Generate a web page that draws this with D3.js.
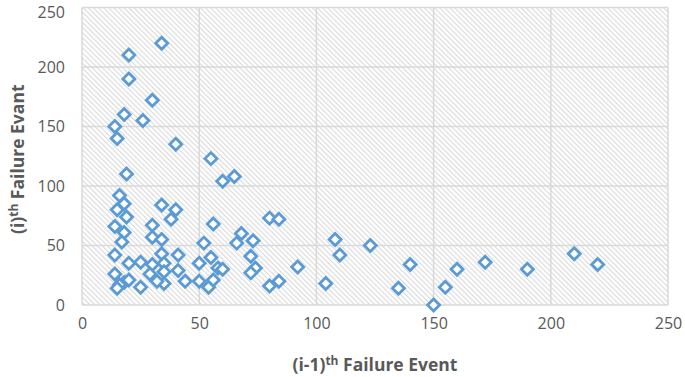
<!DOCTYPE html>
<html>
<head>
<meta charset="utf-8">
<script src="https://cdn.jsdelivr.net/npm/d3@7"></script>
<style>
  body { margin: 0; background: #fff; }
  text { font-family: "Open Sans", sans-serif; }
</style>
</head>
<body>
<script>
// (i-1)th failure event vs (i)th failure event
let prevEvent = [34, 20, 20, 30, 18, 26, 14, 15, 40, 55, 19, 65, 60,
  16, 18, 15, 19, 34, 40, 38, 56, 14, 18, 17, 30, 30, 34, 52,
  68, 66, 73, 80, 84, 108, 110, 123, 92,
  14, 34, 41, 55, 20, 25, 30, 35, 50, 58, 41, 14, 29, 35, 18, 25, 35, 44, 50, 54, 16, 32, 56, 60,
  72, 74, 72, 80, 84, 104, 20, 15,
  140, 135, 150, 155, 160, 172, 190, 210, 220];
let nextEvent = [220, 210, 190, 172, 160, 155, 150, 140, 135, 123, 110, 108, 104,
  92, 85, 80, 74, 84, 80, 72, 68, 66, 61, 53, 67, 57, 55, 52,
  60, 52, 54, 73, 72, 55, 42, 50, 32,
  42, 43, 42, 40, 35, 36, 34, 35, 35, 31, 29, 26, 26, 28, 19, 15, 18, 20, 20, 15, 17, 20, 21, 30,
  41, 31, 27, 16, 20, 18, 21, 14,
  34, 14, 0, 15, 30, 36, 30, 43, 34];
let xTicks = [0, 50, 100, 150, 200, 250];
let yTicks = [0, 50, 100, 150, 200, 250];

let points = prevEvent.map(function(d, i) { return [d, nextEvent[i]]; });

var w = 685, h = 377;
var margin = { top: 7.5, right: 17, bottom: 72, left: 82 };
var width = w - margin.left - margin.right,
    height = h - margin.top - margin.bottom;

var svg = d3.select("body").append("svg")
  .attr("width", w)
  .attr("height", h);

// hatch fill for the plot area
var defs = svg.append("defs");
var pat = defs.append("pattern")
  .attr("id", "hatch")
  .attr("patternUnits", "userSpaceOnUse")
  .attr("width", 3.6)
  .attr("height", 10)
  .attr("patternTransform", "rotate(-45)");
pat.append("rect").attr("width", 3.6).attr("height", 10).attr("fill", "#fff");
pat.append("line")
  .attr("x1", 0.6).attr("y1", 0).attr("x2", 0.6).attr("y2", 10)
  .attr("stroke", "#d9d9d9").attr("stroke-width", 1.1);

var x = d3.scaleLinear().domain([0, 250]).range([0, width]);
var y = d3.scaleLinear().domain([0, 250]).range([height, 0]);

var g = svg.append("g")
  .attr("transform", "translate(" + margin.left + "," + margin.top + ")");

g.append("rect")
  .attr("width", width)
  .attr("height", height)
  .attr("fill", "url(#hatch)");

// gridlines
g.selectAll("line.gx")
  .data(xTicks)
  .enter()
  .append("line")
  .attr("class", "gx")
  .attr("x1", function(d) { return x(d); })
  .attr("x2", function(d) { return x(d); })
  .attr("y1", 0).attr("y2", height)
  .attr("stroke", "#d9d9d9").attr("stroke-width", 1.5);

g.selectAll("line.gy")
  .data(yTicks)
  .enter()
  .append("line")
  .attr("class", "gy")
  .attr("y1", function(d) { return y(d); })
  .attr("y2", function(d) { return y(d); })
  .attr("x1", 0).attr("x2", width)
  .attr("stroke", "#d9d9d9").attr("stroke-width", 1.5);

// axes (labels only)
var xAxis = d3.axisBottom(x).tickValues(xTicks).tickSize(0).tickPadding(13);
var yAxis = d3.axisLeft(y).tickValues(yTicks).tickSize(0).tickPadding(17);

var gx = g.append("g")
  .attr("transform", "translate(0," + height + ")")
  .call(xAxis);
var gy = g.append("g").call(yAxis);

[gx, gy].forEach(function(a) {
  a.select(".domain").remove();
  a.selectAll("text")
    .attr("font-family", "'Open Sans', sans-serif")
    .attr("font-size", "16px")
    .attr("fill", "#595959");
});
// keep the top label inside the page
gy.selectAll("text").filter(function(d) { return d === 250; }).attr("dy", "0.6em");

// diamond markers
var r = 6;
g.selectAll("path.pt")
  .data(points)
  .enter()
  .append("path")
  .attr("class", "pt")
  .attr("d", function(d) {
    var cx = x(d[0]), cy = y(d[1]);
    return "M" + cx + "," + (cy - r) + "L" + (cx + r) + "," + cy +
      "L" + cx + "," + (cy + r) + "L" + (cx - r) + "," + cy + "Z";
  })
  .attr("fill", "#fff")
  .attr("stroke", "#5b9bd5")
  .attr("stroke-width", 2.8);

// axis titles
var xt = svg.append("text")
  .attr("x", margin.left + width / 2)
  .attr("y", 371)
  .attr("text-anchor", "middle")
  .attr("font-size", "17.5px")
  .attr("font-weight", "bold")
  .attr("fill", "#595959");
xt.append("tspan").text("(i-1)");
xt.append("tspan").attr("font-size", "12px").attr("dy", "-6").text("th");
xt.append("tspan").attr("dy", "6").text(" Failure Event");

var yt = svg.append("text")
  .attr("transform", "translate(24," + (margin.top + height / 2 + 3) + ") rotate(-90)")
  .attr("text-anchor", "middle")
  .attr("font-size", "17.5px")
  .attr("font-weight", "bold")
  .attr("fill", "#595959");
yt.append("tspan").text("(i)");
yt.append("tspan").attr("font-size", "12px").attr("dy", "-6").text("th");
yt.append("tspan").attr("dy", "6").text(" Failure Evant");
</script>
</body>
</html>
